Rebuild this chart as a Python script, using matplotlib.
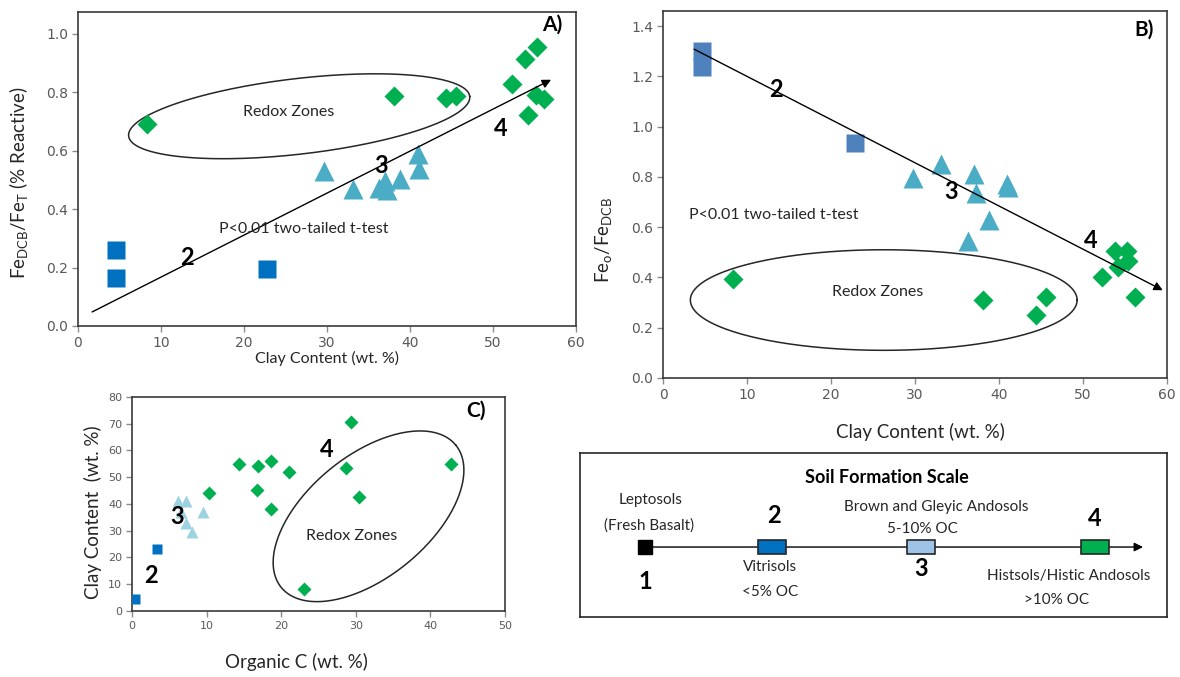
import numpy as np
import matplotlib
matplotlib.use('Agg')
import matplotlib.pyplot as plt
from matplotlib.patches import Rectangle

plt.rcParams['font.family'] = ['Lato', 'DejaVu Sans']
plt.rcParams['mathtext.fontset'] = 'custom'
plt.rcParams['mathtext.rm'] = 'Lato'
plt.rcParams['mathtext.it'] = 'Lato'

# clay content (wt. %) shared by panels A and B
clay_vit = [4.6, 4.6, 22.8]
clay_and = [29.7, 33.1, 36.3, 37.0, 37.2, 38.8, 41.0, 41.1]
clay_his = [8.3, 38.1, 44.4, 45.6, 52.3, 53.8, 54.2, 55.2, 55.3, 56.2]

# A) Fe_DCB / Fe_T
react_vit = [0.261, 0.164, 0.196]
react_and = [0.532, 0.470, 0.472, 0.498, 0.467, 0.504, 0.589, 0.538]
react_his = [0.690, 0.786, 0.781, 0.789, 0.829, 0.913, 0.723, 0.791, 0.954, 0.778]

# B) Fe_o / Fe_DCB
ratio_vit = [1.300, 1.238, 0.934]
ratio_and = [0.795, 0.852, 0.546, 0.812, 0.735, 0.628, 0.770, 0.760]
ratio_his = [0.393, 0.310, 0.249, 0.323, 0.402, 0.506, 0.440, 0.506, 0.466, 0.323]

# C) organic C vs clay
oc_vit = [0.45, 3.3]
cc_vit = [4.6, 23.0]
oc_and = [6.2, 7.2, 6.6, 7.3, 8.0, 9.5]
cc_and = [41.0, 41.0, 37.0, 33.0, 29.5, 37.0]
oc_his = [10.3, 14.4, 16.9, 16.8, 18.6, 18.6, 21.0, 23.0, 28.7, 29.3, 30.4, 42.8]
cc_his = [44.1, 54.9, 54.1, 45.3, 55.9, 38.0, 52.0, 8.1, 53.5, 70.7, 42.5, 54.9]

GREEN = '#00B050'
TEAL = '#4BACC6'
BLUE = '#0070C0'
STEEL = '#4F81BD'
PALE = '#9DD3E0'
TICK = '#595959'
INK = '#262626'


def frame(ax, xlim, ylim, xticks, yticks, yfmt, size):
    ax.set_xlim(*xlim)
    ax.set_ylim(*ylim)
    ax.set_xticks(xticks)
    ax.set_yticks(yticks)
    ax.set_yticklabels([yfmt.format(v) for v in yticks])
    for lab in ax.get_xticklabels() + ax.get_yticklabels():
        lab.set_family('DejaVu Sans')
    ax.tick_params(direction='out', length=4, width=1, color='#8c8c8c',
                   labelcolor=TICK, labelsize=size, pad=3)
    for s in ax.spines.values():
        s.set_color('#3a3a3a')
        s.set_linewidth(1.2)


def ring(ax, p1, p2, ratio):
    # ellipse drawn in screen space so it keeps its shape on unequal axes
    a, b = ax.transData.transform([p1, p2])
    c = (a + b) / 2
    d = (b - a) / 2
    n = np.array([-d[1], d[0]]) * ratio
    t = np.linspace(0, 2 * np.pi, 300)
    pts = c + np.outer(np.cos(t), d) + np.outer(np.sin(t), n)
    xy = ax.transData.inverted().transform(pts)
    ax.plot(xy[:, 0], xy[:, 1], color='#262626', lw=1.1, zorder=1)


def arrow(ax, start, end):
    ax.annotate('', xy=end, xytext=start,
                arrowprops=dict(arrowstyle='-|>', color='black', lw=1.0,
                                mutation_scale=13, shrinkA=0, shrinkB=0))


def main():
    fig = plt.figure(figsize=(11.8, 6.77), dpi=100)

    # A) reactive iron vs clay
    ax = fig.add_axes([0.0661, 0.5185, 0.4220, 0.4638])
    frame(ax, (0, 60), (0, 1.075), range(0, 61, 10),
          [0, 0.2, 0.4, 0.6, 0.8, 1.0], '{:.1f}', 10)
    ax.plot(clay_vit, react_vit, 's', color=BLUE, ms=13.5, mec='none', zorder=3)
    ax.plot(clay_and, react_and, '^', color=TEAL, ms=15, mec='none', zorder=3)
    ax.plot(clay_his, react_his, 'D', color=GREEN, ms=10, mec='none', zorder=3)
    arrow(ax, (1.7, 0.048), (57.0, 0.843))
    ring(ax, (6.1, 0.650), (47.2, 0.786), 0.22)
    ax.text(25.4, 0.732, 'Redox Zones', ha='center', va='center', fontsize=11.5, color=INK)
    ax.text(27.2, 0.332, 'P<0.01 two-tailed t-test', ha='center', va='center',
            fontsize=11.5, color=INK)
    for s, x, y in [('2', 13.1, 0.234), ('3', 36.5, 0.55), ('4', 50.9, 0.677)]:
        ax.text(x, y, s, ha='center', va='center', fontsize=17, fontweight='bold')
    ax.text(57.2, 1.03, 'A)', ha='center', va='center', fontsize=15, fontweight='bold')
    ax.set_xlabel('Clay Content (wt. %)', fontsize=11.5, color=INK)
    ax.xaxis.set_label_coords(0.5, -0.102)
    ax.xaxis.label.set_va('center')
    ax.set_ylabel(r'Fe$_{\mathrm{DCB}}$/Fe$_{\mathrm{T}}$ (% Reactive)',
                  fontsize=13.5, color=INK)
    ax.yaxis.set_label_coords(-0.12, 0.455)
    ax.yaxis.label.set_va('center')

    # B) oxalate / DCB iron vs clay
    ax = fig.add_axes([0.5619, 0.4417, 0.4271, 0.5421])
    frame(ax, (0, 60), (0, 1.46), range(0, 61, 10),
          [0, 0.2, 0.4, 0.6, 0.8, 1.0, 1.2, 1.4], '{:.1f}', 10)
    ax.plot(clay_vit, ratio_vit, 's', color=STEEL, ms=13.5, mec='none', zorder=3)
    ax.plot(clay_and, ratio_and, '^', color=TEAL, ms=15, mec='none', zorder=3)
    ax.plot(clay_his, ratio_his, 'D', color=GREEN, ms=10, mec='none', zorder=3)
    arrow(ax, (3.7, 1.308), (59.5, 0.349))
    ring(ax, (3.25, 0.31), (49.3, 0.31), 0.26)
    ax.text(25.5, 0.343, 'Redox Zones', ha='center', va='center', fontsize=11.5, color=INK)
    ax.text(13.2, 0.649, 'P<0.01 two-tailed t-test', ha='center', va='center',
            fontsize=11.5, color=INK)
    for s, x, y in [('2', 13.5, 1.147), ('3', 34.3, 0.743), ('4', 50.9, 0.546)]:
        ax.text(x, y, s, ha='center', va='center', fontsize=17, fontweight='bold')
    ax.text(57.3, 1.387, 'B)', ha='center', va='center', fontsize=15, fontweight='bold')
    ax.set_xlabel('Clay Content (wt. %)', fontsize=13.5, color=INK)
    ax.xaxis.set_label_coords(0.51, -0.147)
    ax.xaxis.label.set_va('center')
    ax.set_ylabel(r'Fe$_{\mathrm{o}}$/Fe$_{\mathrm{DCB}}$', fontsize=13.5, color=INK)
    ax.yaxis.set_label_coords(-0.119, 0.376)
    ax.yaxis.label.set_va('center')

    # C) clay vs organic carbon
    ax = fig.add_axes([0.1119, 0.0975, 0.3161, 0.3161])
    frame(ax, (0, 50), (0, 80), range(0, 51, 10), range(0, 81, 10), '{:d}', 8)
    ax.plot(oc_vit, cc_vit, 's', color=BLUE, ms=6.5, mec='none', zorder=3)
    ax.plot(oc_and, cc_and, '^', color=PALE, ms=9, mec='none', zorder=3)
    ax.plot(oc_his, cc_his, 'D', color=GREEN, ms=6.8, mec='none', zorder=3)
    ring(ax, (20.0, 8.8), (43.4, 62.0), 0.54)
    ax.text(29.5, 28.2, 'Redox Zones', ha='center', va='center', fontsize=11.5, color=INK)
    for s, x, y in [('2', 2.5, 13.4), ('3', 6.0, 35.2), ('4', 26.1, 60.2)]:
        ax.text(x, y, s, ha='center', va='center', fontsize=17, fontweight='bold')
    ax.text(46.1, 74.8, 'C)', ha='center', va='center', fontsize=15, fontweight='bold')
    ax.set_xlabel('Organic C (wt. %)', fontsize=13.5, color=INK)
    ax.xaxis.set_label_coords(0.44, -0.238)
    ax.xaxis.label.set_va('center')
    ax.set_ylabel('Clay Content  (wt. %)', fontsize=13.5, color=INK)
    ax.yaxis.set_label_coords(-0.105, 0.46)
    ax.yaxis.label.set_va('center')

    # soil formation scale box
    ax = fig.add_axes([0.4915, 0.0886, 0.4975, 0.2422])
    ax.set_xlim(0, 587)
    ax.set_ylim(164, 0)
    ax.set_xticks([])
    ax.set_yticks([])
    for s in ax.spines.values():
        s.set_color('#262626')
        s.set_linewidth(1.2)
    ax.text(307, 24, 'Soil Formation Scale', ha='center', va='center',
            fontsize=13, fontweight='bold')
    arrow(ax, (65, 94), (563, 94))
    ax.add_patch(Rectangle((58, 87), 14, 14, fc='black', ec='black', lw=1, zorder=3))
    for cx, col in [(192, BLUE), (341, '#9DC3E6'), (515, GREEN)]:
        ax.add_patch(Rectangle((cx - 14, 87), 28, 14, fc=col, ec='#262626',
                               lw=1.2, zorder=3))
    for s, x, y in [('1', 65, 128), ('2', 194, 62), ('3', 341, 115), ('4', 515, 65)]:
        ax.text(x, y, s, ha='center', va='center', fontsize=17, fontweight='bold')
    for s, x, y in [('Leptosols', 71, 47), ('(Fresh Basalt)', 69, 73),
                    ('Vitrisols', 190, 114), ('<5% OC', 190, 139),
                    ('Brown and Gleyic Andosols', 356, 54), ('5-10% OC', 342, 76),
                    ('Histsols/Histic Andosols', 489, 123), ('>10% OC', 477, 147)]:
        ax.text(x, y, s, ha='center', va='center', fontsize=11, color=INK)

    fig.savefig('out.png', dpi=100)


if __name__ == '__main__':
    main()
